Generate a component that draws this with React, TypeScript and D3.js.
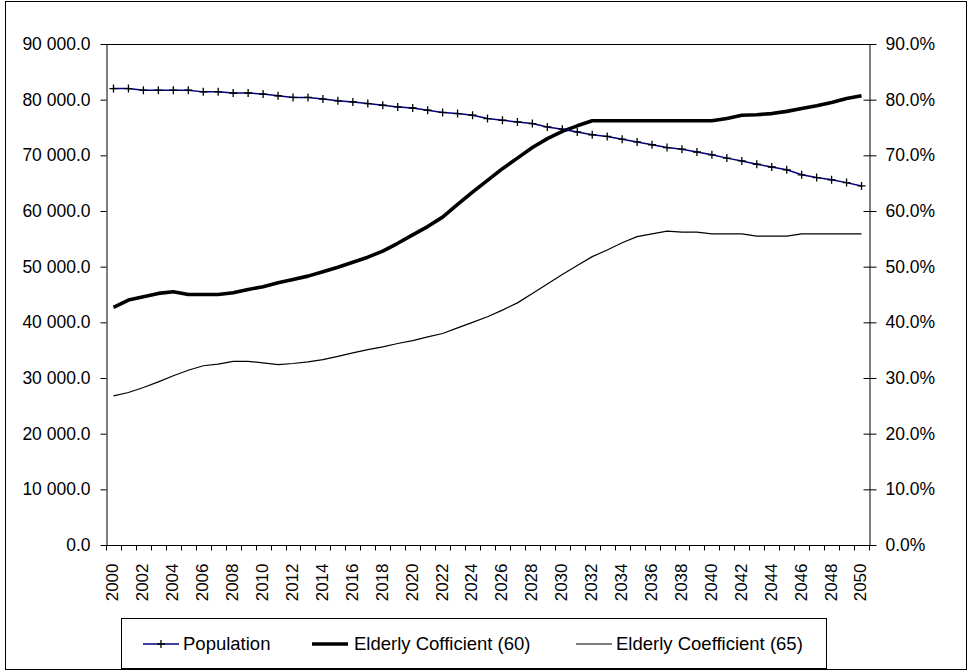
import * as D3 from 'd3'
import { useEffect, useRef } from 'react'

const YEARS = D3.range(2000, 2051).map(String)

// population, thousands (left axis)
const POPULATION = [
  82000, 82000, 81700, 81700, 81700, 81700, 81400, 81400, 81200, 81200,
  81000, 80700, 80400, 80400, 80100, 79800, 79600, 79300, 79000, 78700,
  78500, 78100, 77700, 77500, 77200, 76600, 76300, 76000, 75700, 75100,
  74700, 74200, 73700, 73400, 72900, 72400, 71900, 71400, 71100, 70600,
  70100, 69500, 69000, 68400, 67900, 67400, 66500, 66000, 65600, 65100,
  64500,
]

// share of people 60+ (right axis)
const ELDERLY_60 = [
  0.427, 0.44, 0.446, 0.452, 0.455, 0.45, 0.45, 0.45, 0.453, 0.459,
  0.464, 0.471, 0.477, 0.483, 0.491, 0.499, 0.508, 0.517, 0.528, 0.542,
  0.557, 0.572, 0.589, 0.612, 0.634, 0.655, 0.676, 0.695, 0.714, 0.73,
  0.743, 0.753, 0.762, 0.762, 0.762, 0.762, 0.762, 0.762, 0.762, 0.762,
  0.762, 0.766, 0.772, 0.773, 0.775, 0.779, 0.784, 0.789, 0.795, 0.802,
  0.807,
]

// share of people 65+ (right axis)
const ELDERLY_65 = [
  0.268, 0.274, 0.283, 0.293, 0.304, 0.314, 0.322, 0.325, 0.33, 0.33,
  0.327, 0.324, 0.326, 0.329, 0.333, 0.339, 0.345, 0.351, 0.356, 0.362,
  0.367, 0.374, 0.38, 0.39, 0.4, 0.41, 0.422, 0.435, 0.452, 0.469,
  0.486, 0.502, 0.518, 0.53, 0.543, 0.554, 0.559, 0.564, 0.562, 0.562,
  0.559, 0.559, 0.559, 0.555, 0.555, 0.555, 0.559, 0.559, 0.559, 0.559,
  0.559,
]

const LEFT_TICKS = D3.range(0, 90001, 10000)
const RIGHT_TICKS = D3.range(0, 0.91, 0.1)

const LEGEND = ['Population', 'Elderly Cofficient (60)', 'Elderly Coefficient (65)']

export default function App() {
  const ref = useRef<HTMLDivElement>(null)

  useEffect(() => {
    const width = 970
    const height = 672
    const left = 106
    const right = 869
    const top = 44
    const bottom = 545
    const font = 'Liberation Sans, Arial, sans-serif'

    const x = D3.scaleBand().domain(YEARS).range([left, right])
    const cx = (i: number) => (x(YEARS[i]) as number) + x.bandwidth() / 2
    const yL = D3.scaleLinear().domain([0, 90000]).range([bottom, top])
    const yR = D3.scaleLinear().domain([0, 0.9]).range([bottom, top])

    const fmtL = D3.formatLocale({
      decimal: '.',
      thousands: ' ',
      grouping: [3],
      currency: ['', ''],
    }).format(',.1f')
    const fmtR = D3.format('.1%')

    const svg = D3.create('svg')
      .attr('width', width)
      .attr('height', height)
      .attr('viewBox', [0, 0, width, height])
      .attr('style', `position:absolute;left:0;top:0;background:#fff;font-family:${font}`)

    // outer frame
    svg.append('rect')
      .attr('x', 5.5).attr('y', 1.5)
      .attr('width', 961).attr('height', 668)
      .attr('fill', 'none').attr('stroke', '#000')

    // plot top edge
    svg.append('line')
      .attr('x1', left).attr('x2', right).attr('y1', top + 0.5).attr('y2', top + 0.5)
      .attr('stroke', '#000')

    /* left axis */
    const gl = svg.append('g')
      .attr('transform', `translate(${left + 0.5},0)`)
      .call(D3.axisLeft(yL).tickValues(LEFT_TICKS).tickFormat((d) => fmtL(+d)).tickSize(6).tickSizeOuter(0).tickPadding(10))
    gl.selectAll('text').attr('font-size', 17.5).attr('fill', '#000').attr('font-family', font)
    gl.selectAll('line, path').attr('stroke', '#000')

    /* right axis, ticks cross the line */
    const gr = svg.append('g')
      .attr('transform', `translate(${right + 0.5},0)`)
      .call(D3.axisRight(yR).tickValues(RIGHT_TICKS).tickFormat((d) => fmtR(+d)).tickSize(7).tickSizeOuter(0).tickPadding(9))
    gr.selectAll('.tick line').attr('x1', -6)
    gr.selectAll('text').attr('font-size', 17.5).attr('fill', '#000').attr('font-family', font)
    gr.selectAll('line, path').attr('stroke', '#000')

    /* x axis: ticks between categories */
    const gx = svg.append('g').attr('transform', `translate(0,${bottom + 0.5})`)
    gx.append('line').attr('x1', left).attr('x2', right).attr('stroke', '#000')
    gx.selectAll('line.tk')
      .data(D3.range(YEARS.length + 1))
      .join('line')
      .attr('class', 'tk')
      .attr('x1', (i) => Math.round(left + i * x.step()) + 0.5)
      .attr('x2', (i) => Math.round(left + i * x.step()) + 0.5)
      .attr('y1', 0)
      .attr('y2', 5)
      .attr('stroke', '#000')
    gx.selectAll('text')
      .data(YEARS.filter((_, i) => i % 2 === 0))
      .join('text')
      .attr('transform', (d) => `translate(${(x(d) as number) + x.bandwidth() / 2 - 1},18) rotate(-90)`)
      .attr('text-anchor', 'end')
      .attr('dy', '0.35em')
      .attr('font-size', 17)
      .text((d) => d)

    const idx = D3.range(YEARS.length)

    /* elderly 65, thin */
    svg.append('path')
      .attr('d', D3.line<number>().x(cx).y((i) => yR(ELDERLY_65[i]))(idx))
      .attr('fill', 'none').attr('stroke', '#000').attr('stroke-width', 1.2)

    /* elderly 60, thick */
    svg.append('path')
      .attr('d', D3.line<number>().x(cx).y((i) => yR(ELDERLY_60[i]))(idx))
      .attr('fill', 'none').attr('stroke', '#000').attr('stroke-width', 3.6)
      .attr('stroke-linejoin', 'round')

    /* population with + markers */
    svg.append('path')
      .attr('d', D3.line<number>().x(cx).y((i) => yL(POPULATION[i]))(idx))
      .attr('fill', 'none').attr('stroke', '#000080').attr('stroke-width', 1.5)
    const plus = (px: number, py: number) => `M${px - 4},${py}H${px + 4}M${px},${py - 4}V${py + 4}`
    svg.append('path')
      .attr('d', idx.map((i) => plus(cx(i), yL(POPULATION[i]))).join(''))
      .attr('fill', 'none').attr('stroke', '#000').attr('stroke-width', 1.3)

    /* legend */
    const lg = svg.append('g')
    lg.append('rect')
      .attr('x', 121.5).attr('y', 618.5)
      .attr('width', 705).attr('height', 50)
      .attr('fill', '#fff').attr('stroke', '#000')
    const items = [
      { x1: 143, tx: 183, stroke: '#000080', w: 1.5 },
      { x1: 312, tx: 354, stroke: '#000', w: 3.6 },
      { x1: 576, tx: 616, stroke: '#000', w: 1.2 },
    ]
    const ly = 644
    items.forEach((it, k) => {
      lg.append('line')
        .attr('x1', it.x1).attr('x2', it.x1 + 36)
        .attr('y1', ly).attr('y2', ly)
        .attr('stroke', it.stroke).attr('stroke-width', it.w)
      if (k === 0) {
        lg.append('path').attr('d', plus(it.x1 + 18, ly)).attr('stroke', '#000').attr('stroke-width', 1.3)
      }
      lg.append('text')
        .attr('x', it.tx).attr('y', ly)
        .attr('dy', '0.35em')
        .attr('font-size', 18.5)
        .text(LEGEND[k])
    })

    const node = svg.node()
    if (ref.current && node) {
      ref.current.innerHTML = ''
      ref.current.appendChild(node)
    }
  }, [])

  return <div ref={ref} />
}
